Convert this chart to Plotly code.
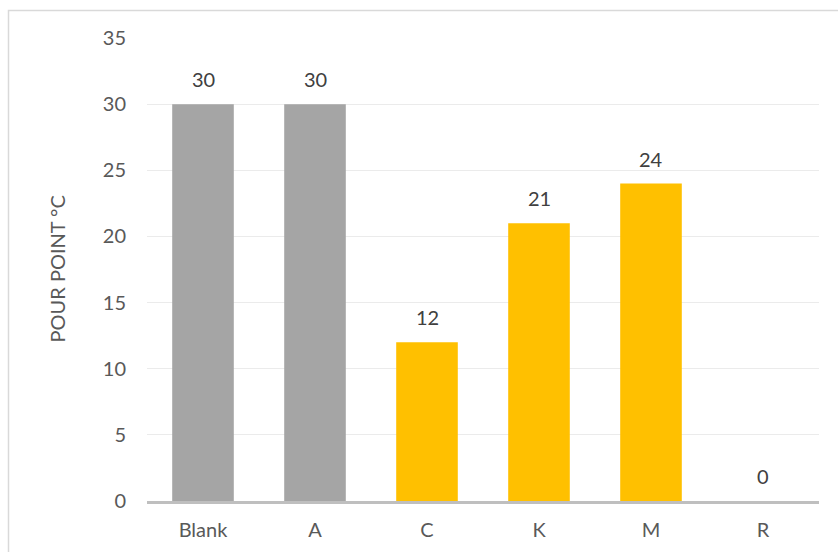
import plotly.graph_objects as go

# Pour point per sample
categories = ["Blank", "A", "C", "K", "M", "R"]
pour_point = [30, 30, 12, 21, 24, 0]
bar_colors = ["#A5A5A5", "#A5A5A5", "#FFC000", "#FFC000", "#FFC000", "#FFC000"]
y_ticks = [0, 5, 10, 15, 20, 25, 30, 35]

text_color = "#595959"
font_family = "Lato, 'Open Sans', sans-serif"
fs = 20

W, H = 838, 552
L, R, T, B = 147, 19, 38, 51
pw, ph = W - L - R, H - T - B

fig = go.Figure()
fig.add_trace(go.Bar(
    x=categories,
    y=pour_point,
    marker=dict(color=bar_colors, line=dict(width=0)),
    hoverinfo="x+y",
))

# Value labels above each bar
for cat, val in zip(categories, pour_point):
    fig.add_annotation(
        x=cat, y=val, text=str(val), showarrow=False,
        yanchor="bottom", yshift=11,
        font=dict(size=fs, color="#404040", family=font_family),
    )

# Y axis title
fig.add_annotation(
    xref="paper", yref="paper",
    x=(56 - L) / pw, y=0.5, text="POUR POINT °C", textangle=-90,
    showarrow=False, xanchor="center", yanchor="middle",
    font=dict(size=fs, color=text_color, family=font_family),
)

# Chart frame
fig.add_shape(
    type="rect", xref="paper", yref="paper",
    x0=(8.5 - L) / pw, x1=(W + 5 - L) / pw,
    y0=-(H + 5 - (T + ph)) / ph, y1=(T + ph - 10.5) / ph,
    line=dict(color="#D9D9D9", width=1.5), fillcolor="rgba(0,0,0,0)",
    layer="below",
)

fig.update_layout(
    width=W, height=H,
    margin=dict(l=L, r=R, t=T, b=B, pad=0, autoexpand=False),
    paper_bgcolor="white", plot_bgcolor="white",
    bargap=0.45,
    showlegend=False,
    font=dict(family=font_family, color=text_color, size=fs),
    xaxis=dict(
        showgrid=False, showline=True, linecolor="#BFBFBF", linewidth=3,
        ticks="", ticklabelstandoff=9, automargin=False,
        tickfont=dict(size=fs, color=text_color),
    ),
    yaxis=dict(
        range=[0, 35], tickvals=y_ticks, showgrid=True, gridcolor="#EBEBEB",
        gridwidth=1.2, zeroline=False, showline=False, ticks="",
        ticklabelstandoff=20, automargin=False,
        tickfont=dict(size=fs, color=text_color),
    ),
)

fig.write_html("out.html")
